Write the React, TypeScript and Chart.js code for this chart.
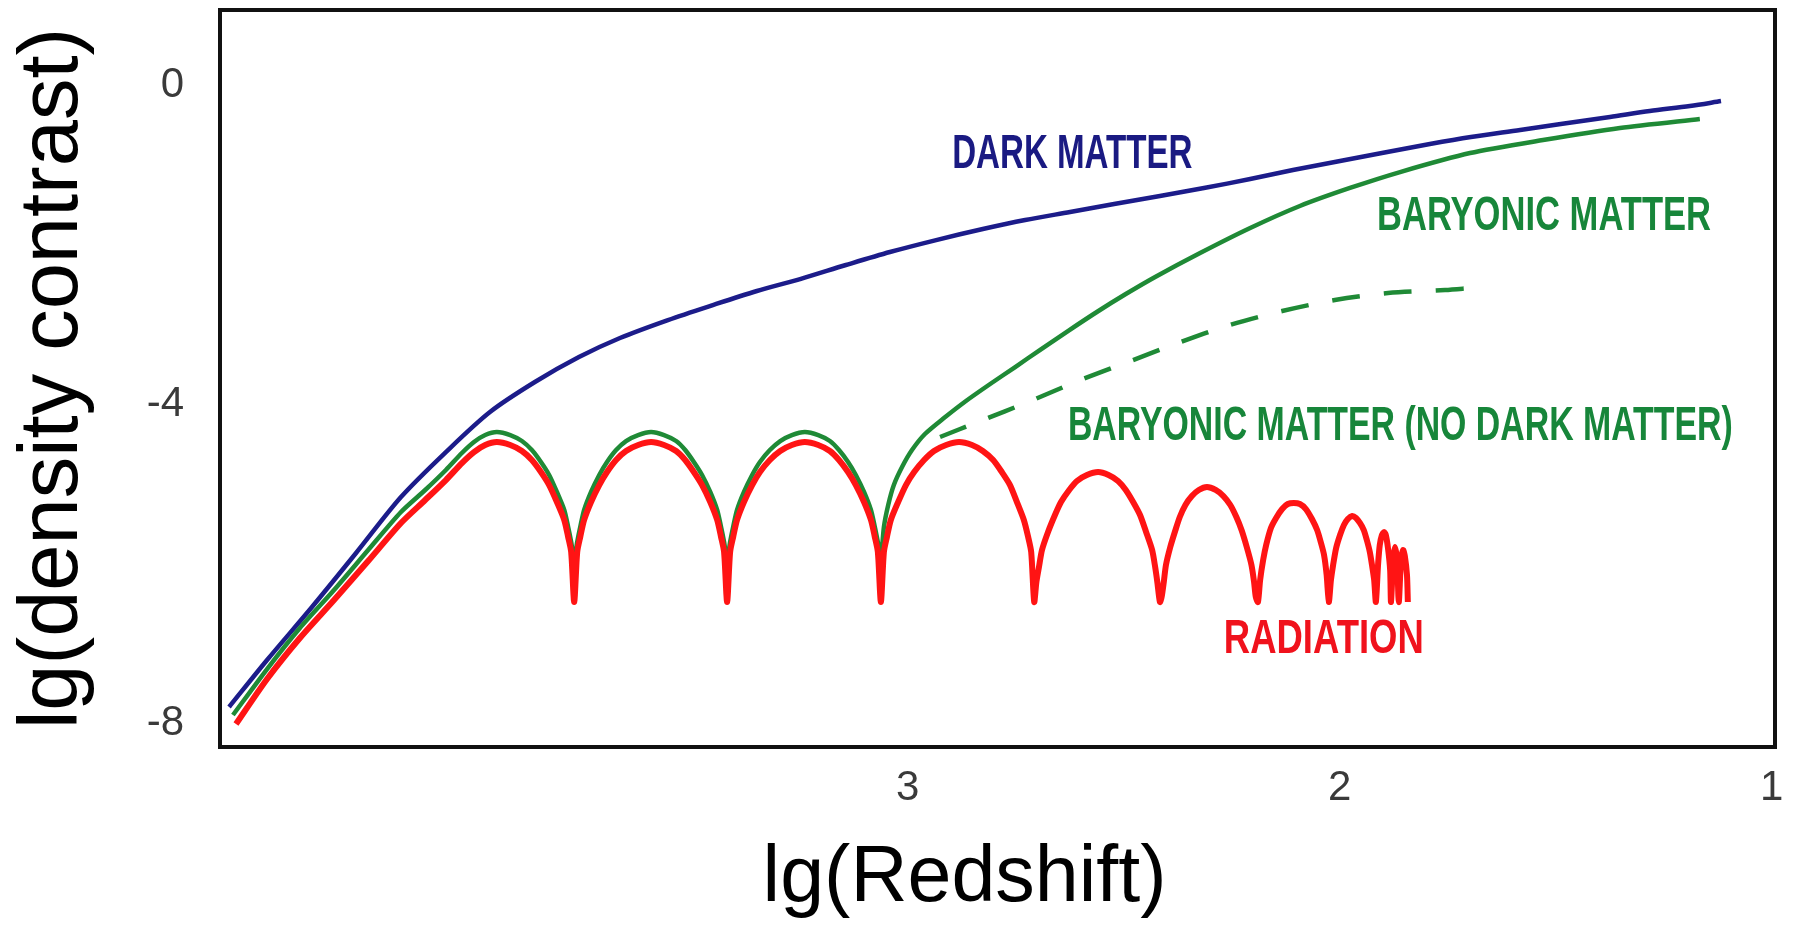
import React, { useEffect, useRef } from 'react';
import { Chart, registerables } from 'chart.js';

Chart.register(...registerables);

// Axis ticks and ranges (lg(Redshift) decreases to the right)
const X_TICKS = [3, 2, 1];
const Y_TICKS = [0, -4, -8];
const X_MIN = 0.976;
const X_MAX = 4.576;
const Y_MIN = -8.355;
const Y_MAX = 0.887;

// [lg(Redshift), lg(density contrast)]
const DARK_MATTER: [number, number][] = [
  [4.555, -7.853], [4.467, -7.264], [4.363, -6.599], [4.261, -5.922], [4.157, -5.220],
  [4.053, -4.656], [3.951, -4.154], [3.847, -3.778], [3.745, -3.465], [3.650, -3.226],
  [3.539, -3.001], [3.435, -2.813], [3.333, -2.637], [3.233, -2.487], [3.127, -2.311],
  [3.025, -2.148], [2.918, -1.998], [2.810, -1.860], [2.712, -1.747], [2.608, -1.646],
  [2.506, -1.546], [2.400, -1.446], [2.298, -1.345], [2.191, -1.233], [2.092, -1.120],
  [1.983, -1.007], [1.886, -0.907], [1.775, -0.794], [1.680, -0.706], [1.566, -0.618],
  [1.472, -0.543], [1.358, -0.455], [1.266, -0.380], [1.173, -0.317], [1.101, -0.255],
];

const BARYONIC_MATTER: [number, number][] = [
  [4.546, -7.954], [4.467, -7.377], [4.391, -6.863], [4.312, -6.386], [4.233, -5.885],
  [4.157, -5.408], [4.101, -5.132], [4.053, -4.881], [4.016, -4.668], [3.988, -4.530],
  [3.962, -4.443], [3.935, -4.405], [3.904, -4.443], [3.877, -4.518], [3.854, -4.631],
  [3.833, -4.781], [3.814, -4.944], [3.796, -5.157], [3.779, -5.383], [3.770, -5.596],
  [3.763, -5.784], [3.756, -6.010],
  [3.749, -5.784], [3.742, -5.596], [3.733, -5.383], [3.717, -5.157], [3.698, -4.944],
  [3.680, -4.781], [3.659, -4.631], [3.636, -4.518], [3.608, -4.443], [3.578, -4.405],
  [3.548, -4.443], [3.520, -4.518], [3.499, -4.631], [3.479, -4.781], [3.460, -4.944],
  [3.441, -5.157], [3.425, -5.383], [3.416, -5.596], [3.409, -5.784], [3.402, -6.010],
  [3.395, -5.784], [3.388, -5.596], [3.379, -5.383], [3.363, -5.157], [3.344, -4.944],
  [3.326, -4.781], [3.303, -4.631], [3.279, -4.518], [3.252, -4.443], [3.222, -4.405],
  [3.191, -4.443], [3.164, -4.518], [3.143, -4.631], [3.122, -4.781], [3.104, -4.944],
  [3.085, -5.157], [3.069, -5.383], [3.060, -5.596], [3.053, -5.784], [3.046, -5.985],
  [3.039, -5.596], [3.029, -5.320], [3.016, -5.070], [2.997, -4.844], [2.974, -4.631],
  [2.944, -4.430], [2.900, -4.230], [2.849, -4.016], [2.793, -3.803], [2.735, -3.590],
  [2.678, -3.377], [2.613, -3.139], [2.546, -2.900], [2.479, -2.675], [2.411, -2.461],
  [2.307, -2.161], [2.191, -1.847], [2.076, -1.571], [1.960, -1.345], [1.844, -1.145],
  [1.682, -0.907], [1.513, -0.744], [1.335, -0.593], [1.150, -0.480],
];

const BARYONIC_NO_DARK: [number, number][] = [
  [2.909, -4.468], [2.816, -4.267], [2.705, -4.029], [2.590, -3.766], [2.474, -3.527],
  [2.358, -3.289], [2.238, -3.063], [2.117, -2.888], [1.995, -2.750], [1.872, -2.662],
  [1.740, -2.624], [1.680, -2.599],
];

const RADIATION: [number, number][] = [
  [4.539, -8.067], [4.467, -7.502], [4.391, -6.988], [4.312, -6.512], [4.233, -6.023],
  [4.157, -5.546], [4.101, -5.258], [4.053, -5.007], [4.016, -4.794], [3.988, -4.656],
  [3.962, -4.568], [3.935, -4.530], [3.904, -4.568], [3.877, -4.643], [3.854, -4.756],
  [3.833, -4.907], [3.814, -5.070], [3.796, -5.283], [3.779, -5.508], [3.770, -5.722],
  [3.763, -5.910], [3.756, -6.537],
  [3.749, -5.910], [3.742, -5.722], [3.733, -5.508], [3.717, -5.283], [3.698, -5.070],
  [3.680, -4.907], [3.659, -4.756], [3.636, -4.643], [3.608, -4.568], [3.578, -4.530],
  [3.548, -4.568], [3.520, -4.643], [3.499, -4.756], [3.479, -4.907], [3.460, -5.070],
  [3.441, -5.283], [3.425, -5.508], [3.416, -5.722], [3.409, -5.910], [3.402, -6.537],
  [3.395, -5.910], [3.388, -5.722], [3.379, -5.508], [3.363, -5.283], [3.344, -5.070],
  [3.326, -4.907], [3.303, -4.756], [3.279, -4.643], [3.252, -4.568], [3.222, -4.530],
  [3.191, -4.568], [3.164, -4.643], [3.143, -4.756], [3.122, -4.907], [3.104, -5.070],
  [3.085, -5.283], [3.069, -5.508], [3.060, -5.722], [3.053, -5.910], [3.046, -6.537],
  [3.039, -5.910], [3.032, -5.722], [3.023, -5.508], [3.006, -5.283], [2.988, -5.070],
  [2.969, -4.907], [2.946, -4.756], [2.923, -4.643], [2.895, -4.568], [2.865, -4.530],
  [2.835, -4.568], [2.810, -4.643], [2.786, -4.756], [2.766, -4.907], [2.747, -5.070],
  [2.731, -5.283], [2.715, -5.508], [2.705, -5.722], [2.698, -5.910], [2.691, -6.537],
  [2.686, -6.286], [2.680, -6.098], [2.673, -5.885], [2.659, -5.659], [2.643, -5.446],
  [2.629, -5.283], [2.610, -5.132], [2.592, -5.019], [2.569, -4.944], [2.543, -4.907],
  [2.519, -4.944], [2.497, -5.019], [2.479, -5.132], [2.462, -5.283], [2.446, -5.446],
  [2.432, -5.659], [2.418, -5.885], [2.411, -6.098], [2.406, -6.286], [2.400, -6.537],
  [2.396, -6.474], [2.391, -6.286], [2.386, -6.073], [2.376, -5.847], [2.364, -5.634],
  [2.354, -5.471], [2.341, -5.320], [2.326, -5.208], [2.310, -5.132], [2.291, -5.095],
  [2.271, -5.132], [2.253, -5.208], [2.237, -5.320], [2.223, -5.471], [2.211, -5.634],
  [2.199, -5.847], [2.188, -6.073], [2.182, -6.286], [2.178, -6.474], [2.173, -6.537],
  [2.168, -6.261], [2.161, -6.010], [2.154, -5.822], [2.143, -5.609], [2.131, -5.483],
  [2.117, -5.371], [2.104, -5.308], [2.090, -5.295], [2.076, -5.308], [2.062, -5.371],
  [2.048, -5.496], [2.036, -5.634], [2.027, -5.797], [2.020, -5.947], [2.014, -6.198],
  [2.009, -6.537],
  [2.004, -6.261], [1.999, -6.073], [1.992, -5.860], [1.983, -5.697], [1.974, -5.571],
  [1.965, -5.496], [1.955, -5.458], [1.946, -5.483], [1.937, -5.546], [1.928, -5.634],
  [1.921, -5.759], [1.914, -5.910], [1.909, -6.073], [1.904, -6.261], [1.900, -6.537],
  [1.895, -6.073], [1.891, -5.822], [1.886, -5.697], [1.881, -5.659], [1.877, -5.697],
  [1.872, -5.860], [1.867, -6.135], [1.865, -6.537],
  [1.860, -6.010], [1.856, -5.847], [1.851, -6.010], [1.847, -6.537],
  [1.842, -6.035], [1.837, -5.885], [1.833, -5.960], [1.828, -6.198], [1.826, -6.537],
];

// Curve labels: text anchored (left, baseline) at a data position
const CURVE_LABELS = [
  { text: 'DARK MATTER', x: 2.881, y: -1.095, color: '#1a1a82', squeeze: 0.69 },
  { text: 'BARYONIC MATTER', x: 1.8975, y: -1.872, color: '#17863a', squeeze: 0.72 },
  { text: 'BARYONIC MATTER (NO DARK MATTER)', x: 2.613, y: -4.505, color: '#17863a', squeeze: 0.705 },
  { text: 'RADIATION', x: 2.252, y: -7.18, color: '#f0121c', squeeze: 0.76 },
];

const FONT = '"Liberation Sans", Arial, Helvetica, sans-serif';

const toPoints = (arr: [number, number][]) => arr.map(([x, y]) => ({ x, y }));

export default function App() {
  const ref = useRef<HTMLCanvasElement | null>(null);

  useEffect(() => {
    const canvas = ref.current;
    if (!canvas) return;

    const framePlugin = {
      id: 'frame',
      beforeDatasetsDraw(chart: any) {
        const { ctx, chartArea: a } = chart;
        ctx.save();
        ctx.strokeStyle = '#111';
        ctx.lineWidth = 4;
        ctx.strokeRect(a.left, a.top, a.right - a.left, a.bottom - a.top);
        ctx.restore();
      },
    };

    const labelPlugin = {
      id: 'curveLabels',
      afterDatasetsDraw(chart: any) {
        const { ctx } = chart;
        const xs = chart.scales.x;
        const ys = chart.scales.y;
        ctx.save();
        ctx.font = `bold 48px ${FONT}`;
        ctx.textAlign = 'left';
        ctx.textBaseline = 'alphabetic';
        for (const l of CURVE_LABELS) {
          const px = xs.getPixelForValue(l.x);
          const py = ys.getPixelForValue(l.y);
          ctx.save();
          ctx.translate(px, py);
          ctx.scale(l.squeeze, 1);
          ctx.fillStyle = l.color;
          ctx.fillText(l.text, 0, 0);
          ctx.restore();
        }
        ctx.restore();
      },
    };

    const chart = new Chart(canvas, {
      type: 'line',
      data: {
        datasets: [
          {
            label: 'Radiation',
            data: toPoints(RADIATION),
            borderColor: '#ff1414',
            borderWidth: 6,
            tension: 0.25,
            order: 0,
          },
          {
            label: 'Baryonic matter',
            data: toPoints(BARYONIC_MATTER),
            borderColor: '#1f8a36',
            borderWidth: 4.5,
            tension: 0.25,
            order: 1,
          },
          {
            label: 'Baryonic matter (no dark matter)',
            data: toPoints(BARYONIC_NO_DARK),
            borderColor: '#1f8a36',
            borderWidth: 4.5,
            borderDash: [28, 24],
            tension: 0.3,
            order: 2,
          },
          {
            label: 'Dark matter',
            data: toPoints(DARK_MATTER),
            borderColor: '#1c1c8a',
            borderWidth: 4.5,
            tension: 0.3,
            order: 3,
          },
        ],
      },
      options: {
        animation: false,
        responsive: false,
        layout: { padding: { top: 10, right: 23, left: 0, bottom: 0 } },
        elements: { point: { radius: 0, hoverRadius: 0 } },
        plugins: {
          legend: { display: false },
          tooltip: { enabled: false },
        },
        events: [],
        scales: {
          x: {
            type: 'linear',
            reverse: true,
            min: X_MIN,
            max: X_MAX,
            afterBuildTicks: (s: any) => {
              s.ticks = X_TICKS.map((v) => ({ value: v }));
            },
            afterFit: (s: any) => {
              s.height = 182;
              s.paddingLeft = 0;
              s.paddingRight = 0;
              s.paddingTop = 0;
              s.paddingBottom = 0;
            },
            grid: { display: false, drawTicks: false },
            border: { display: false },
            ticks: {
              autoSkip: false,
              maxRotation: 0,
              padding: 16,
              labelOffset: 7,
              color: '#3a3a3a',
              font: { family: FONT, size: 42 },
              callback: (v: any) => String(v),
            },
            title: {
              display: true,
              text: 'lg(Redshift)\u00a0\u00a0\u00a0',
              color: '#000',
              font: { family: FONT, size: 79 },
              padding: { top: 0, bottom: 2 },
            },
          },
          y: {
            type: 'linear',
            min: Y_MIN,
            max: Y_MAX,
            afterBuildTicks: (s: any) => {
              s.ticks = Y_TICKS.map((v) => ({ value: v }));
            },
            afterFit: (s: any) => {
              s.width = 220;
              s.paddingLeft = 0;
              s.paddingRight = 0;
              s.paddingTop = 0;
              s.paddingBottom = 0;
            },
            grid: { display: false, drawTicks: false },
            border: { display: false },
            ticks: {
              autoSkip: false,
              padding: 36,
              labelOffset: 5,
              color: '#3a3a3a',
              font: { family: FONT, size: 42 },
              callback: (v: any) => String(v),
            },
            title: {
              display: true,
              text: 'lg(density contrast)',
              color: '#000',
              font: { family: FONT, size: 83 },
              padding: { top: 4, bottom: 0 },
            },
          },
        },
      },
      plugins: [framePlugin, labelPlugin],
    } as any);

    return () => chart.destroy();
  }, []);

  return (
    <div style={{ position: 'absolute', left: 0, top: 0, width: 1798, height: 929, background: '#fff' }}>
      <canvas ref={ref} width={1798} height={929} style={{ display: 'block', width: '1798px', height: '929px' }} />
    </div>
  );
}
